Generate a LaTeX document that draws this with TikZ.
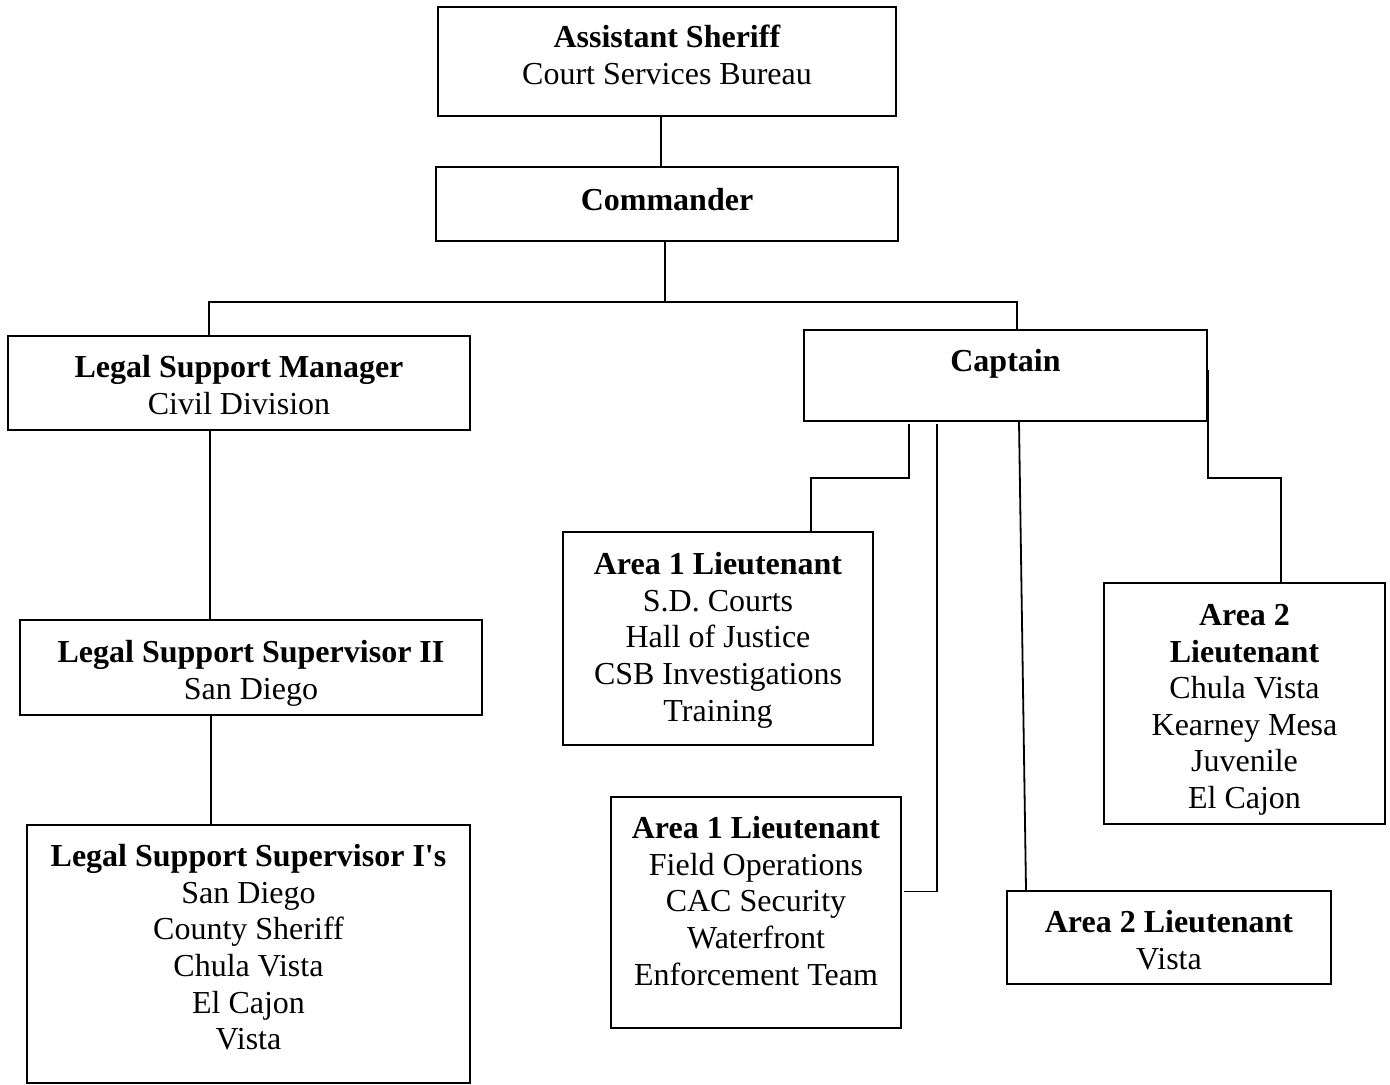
\documentclass[tikz,border=0pt]{standalone}
\usepackage{fontspec}
\setmainfont{Liberation Serif}
\begin{document}
\begin{tikzpicture}[x=0.5pt,y=-0.5pt,
  box/.style={draw=black, line width=1pt, rectangle, inner sep=0pt},
  txt/.style={font=\fontsize{16pt}{18.3pt}\selectfont, align=center, inner sep=0pt, anchor=north,
    execute at begin node=\rule{0pt}{13pt}},
  conn/.style={draw=black, line width=0.9pt}]
\useasboundingbox (0,0) rectangle (1390,1085);
% boxes
\node[box, minimum width=229pt, minimum height=54.5pt] (asst) at (667,61.5) {};
\node[box, minimum width=231pt, minimum height=37pt] (cmdr) at (667,204) {};
\node[box, minimum width=231pt, minimum height=47pt] (lsm) at (239,383) {};
\node[box, minimum width=201.5pt, minimum height=45.5pt] (capt) at (1005.5,375.5) {};
\node[box, minimum width=231pt, minimum height=47.5pt] (lss2) at (251,667.5) {};
\node[box, minimum width=221.5pt, minimum height=129pt] (lss1) at (248.5,954) {};
\node[box, minimum width=155pt, minimum height=106.5pt] (a1sd) at (718,638.5) {};
\node[box, minimum width=145pt, minimum height=115.5pt] (a1fo) at (756,912.5) {};
\node[box, minimum width=140.5pt, minimum height=120.5pt] (a2cv) at (1244.5,703.5) {};
\node[box, minimum width=162pt, minimum height=46.5pt] (a2vi) at (1169,937.5) {};
% texts
\node[txt] (asstT) at (667,25) {\textbf{Assistant Sheriff}\\Court Services Bureau};
\node[txt] (cmdrT) at (667,184) {\textbf{Commander}};
\node[txt] (lsmT) at (239,355) {\textbf{Legal Support Manager}\\Civil Division};
\node[txt] (captT) at (1005.5,345) {\textbf{Captain}};
\node[txt] (lss2T) at (251,640) {\textbf{Legal Support Supervisor II}\\San Diego};
\node[txt] (lss1T) at (248.5,844) {\textbf{Legal Support Supervisor I\textquotesingle s}\\San Diego\\County Sheriff\\Chula Vista\\El Cajon\\Vista};
\node[txt] (a1sdT) at (718,552) {\textbf{Area 1 Lieutenant}\\S.D. Courts\\Hall of Justice\\CSB Investigations\\Training};
\node[txt] (a1foT) at (756,816) {\textbf{Area 1 Lieutenant}\\Field Operations\\CAC Security\\Waterfront\\Enforcement Team};
\node[txt] (a2cvT) at (1244.5,604) {\textbf{Area 2}\\\textbf{Lieutenant}\\Chula Vista\\Kearney Mesa\\Juvenile\\El Cajon};
\node[txt] (a2viT) at (1169,910) {\textbf{Area 2 Lieutenant}\\Vista};
% connectors
\coordinate (hub) at (665,302);
\draw[conn] ([xshift=-3pt]asst.south) -- ([xshift=-3pt]cmdr.north);
\draw[conn] ([xshift=-1pt]cmdr.south) -- (hub);
\draw[conn] ([xshift=-15pt]lsm.north) |- (hub) -| ([xshift=5.75pt]capt.north);
\draw[conn] ([xshift=-14.5pt]lsm.south) -- ([xshift=-20.5pt]lss2.north);
\draw[conn] ([xshift=-20pt]lss2.south) -- ([xshift=-18.75pt]lss1.north);
\draw[conn] ([xshift=-48.25pt,yshift=-1pt]capt.south) -- ++(0pt,-27pt) -| ([xshift=46.5pt]a1sd.north);
\draw[conn] ([xshift=-34.25pt,yshift=-1pt]capt.south) |- ([xshift=1pt,yshift=10.5pt]a1fo.east);
\draw[conn] ([xshift=6.75pt]capt.south) -- ([xshift=-71.5pt]a2vi.north);
\draw[conn] ([yshift=2.75pt]capt.east) -- ++(0pt,-54pt) -| ([xshift=18.25pt]a2cv.north);
\end{tikzpicture}
\end{document}
